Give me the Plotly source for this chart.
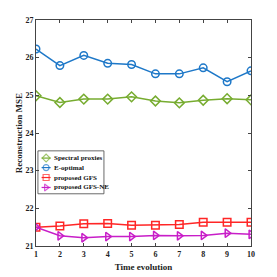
import plotly.graph_objects as go

time_steps = [1, 2, 3, 4, 5, 6, 7, 8, 9, 10]
spectral_proxies = [24.99, 24.81, 24.90, 24.90, 24.96, 24.85, 24.80, 24.87, 24.91, 24.88]
e_optimal = [26.23, 25.79, 26.06, 25.85, 25.82, 25.57, 25.57, 25.73, 25.36, 25.65]
proposed_gfs = [21.50, 21.53, 21.59, 21.60, 21.55, 21.55, 21.57, 21.63, 21.63, 21.63]
proposed_gfs_ne = [21.50, 21.27, 21.22, 21.25, 21.25, 21.28, 21.27, 21.28, 21.34, 21.31]
y_ticks = [21, 22, 23, 24, 25, 26, 27]

series = [
    ("Spectral proxies", spectral_proxies, "#77AC30", "diamond-open"),
    ("E-optimal", e_optimal, "#1E78C8", "circle-open"),
    ("proposed GFS", proposed_gfs, "#FF2626", "square-open"),
    ("proposed GFS-NE", proposed_gfs_ne, "#C81EC8", "triangle-right-open"),
]

font_family = "Liberation Serif"
fig = go.Figure()
for name, vals, color, sym in series:
    fig.add_trace(go.Scatter(
        x=time_steps, y=vals, name=name, mode="lines+markers",
        line=dict(color=color, width=1.5),
        marker=dict(symbol=sym, size=7.5, color=color, line=dict(width=1.5, color=color)),
        showlegend=False,
    ))

# Manual compact legend (overlay axes spanning the plot area, range 0..1)
leg_left, leg_right, leg_top, leg_bottom = 0.009, 0.316, 0.421, 0.231
row_y = [0.389, 0.347, 0.303, 0.259]
fig.add_shape(type="rect", xref="paper", yref="paper", x0=leg_left, x1=leg_right,
              y0=leg_bottom, y1=leg_top, line=dict(color="#444", width=0.8), fillcolor="white", layer="below")
for (name, vals, color, sym), ry in zip(series, row_y):
    fig.add_trace(go.Scatter(
        x=[0.026, 0.047, 0.068], y=[ry, ry, ry], xaxis="x2", yaxis="y2",
        mode="lines+markers", line=dict(color=color, width=1.2),
        marker=dict(symbol=sym, size=[0, 6, 0], color=color, line=dict(width=1.2, color=color)),
        showlegend=False, hoverinfo="skip",
    ))
    fig.add_annotation(x=0.074, y=ry, xref="paper", yref="paper", text="<b>%s</b>" % name,
                       showarrow=False, xanchor="left", yanchor="middle",
                       font=dict(family=font_family, size=7, color="#111"))

# y-axis title as annotation for precise placement
fig.add_annotation(x=-0.078, y=0.5, xref="paper", yref="paper", text="<b>Reconstruction MSE</b>",
                   textangle=-90, showarrow=False, xanchor="center", yanchor="middle",
                   font=dict(family=font_family, size=9, color="#222"))

axis_common = dict(
    showline=True, linecolor="#444", linewidth=1, mirror="ticks",
    ticks="inside", ticklen=3, tickcolor="#444", showgrid=False, zeroline=False,
    automargin=False,
    tickfont=dict(family=font_family, size=8, color="#222", weight="bold"),
)
fig.update_xaxes(range=[1, 10], tickvals=time_steps, **axis_common,
                 title=dict(text="<b>Time evolution</b>", font=dict(family=font_family, size=9, color="#222"), standoff=6))
fig.update_yaxes(range=[21, 27], tickvals=y_ticks, **axis_common)

fig.update_layout(
    width=277, height=277,
    margin=dict(l=28, r=34, t=12, b=39),
    plot_bgcolor="white", paper_bgcolor="white",
    showlegend=False,
    xaxis2=dict(overlaying="x", range=[0, 1], visible=False, fixedrange=True),
    yaxis2=dict(overlaying="y", range=[0, 1], visible=False, fixedrange=True),
)
fig.write_html("out.html")
